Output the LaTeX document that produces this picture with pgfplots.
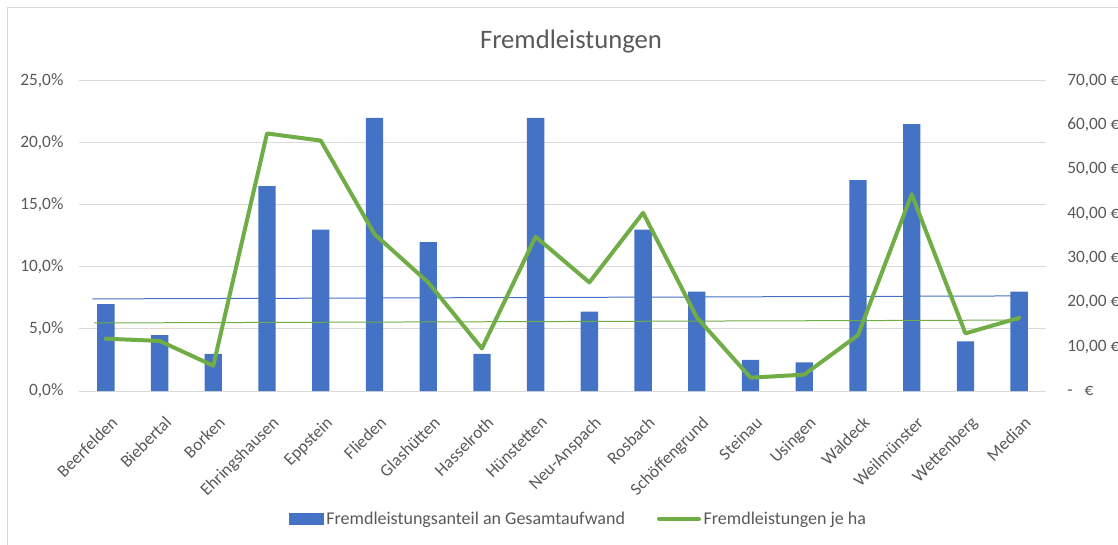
\documentclass[border=0pt]{standalone}
\usepackage{pgfplots}
\pgfplotsset{compat=1.18}
\usepackage{fontspec}
\setmainfont{Carlito}
\definecolor{xblue}{HTML}{4472C4}
\definecolor{xgreen}{HTML}{70AD47}
\definecolor{xtext}{HTML}{595959}
\definecolor{xgrid}{HTML}{D9D9D9}
\begin{document}
\begin{tikzpicture}
\useasboundingbox (0pt,0pt) rectangle (838.5pt,408pt);
\draw[xgrid, line width=0.75pt] (5.25pt,-10pt) -- (5.25pt,402pt) -- (850pt,402pt);
\pgfplotsset{
  common/.style={
    at={(59.25pt,114.75pt)}, anchor=south west,
    width=725.25pt, height=232.7pt, scale only axis,
    xmin=-0.5, xmax=17.5,
    axis line style={draw=none}, major tick length=0pt,
    ticklabel style={text=xtext, font=\fontsize{13}{15}\selectfont},
  }
}
\begin{axis}[common,
  ymin=0, ymax=25,
  ytick={0,5,10,15,20,25},
  yticklabels={{0,0\%},{5,0\%},{10,0\%},{15,0\%},{20,0\%},{25,0\%}},
  ymajorgrids, grid style={xgrid, line width=0.75pt},
  yticklabel style={anchor=east, inner sep=0pt, xshift=-11.5pt},
  xtick={0,...,17},
  xticklabels={Beerfelden,Biebertal,Borken,Ehringshausen,Eppstein,Flieden,Glashütten,Hasselroth,Hünstetten,Neu-Anspach,Rosbach,Schöffengrund,Steinau,Usingen,Waldeck,Weilmünster,Wettenberg,Median},
  xticklabel style={rotate=45, anchor=north east, inner sep=0pt, xshift=-10.5pt, yshift=-15pt},
]
\addplot[ybar, bar width=13pt, fill=xblue, draw=none] coordinates {
(0,7.0) (1,4.5) (2,3.0) (3,16.5) (4,13.0) (5,22.0) (6,12.0) (7,3.0) (8,22.0)
(9,6.4) (10,13.0) (11,8.0) (12,2.5) (13,2.3) (14,17.0) (15,21.5) (16,4.0) (17,8.0)};
\addplot[xblue, line width=0.75pt] coordinates {(-0.25,7.42) (16.9,7.66)};
\end{axis}
\begin{axis}[common,
  ymin=0, ymax=70,
  axis x line=none, axis y line*=right,
  xtick=\empty,
  ytick={0,10,20,30,40,50,60,70},
  yticklabels={{-\hspace{9pt}€},{10,00 €},{20,00 €},{30,00 €},{40,00 €},{50,00 €},{60,00 €},{70,00 €}},
  yticklabel style={anchor=west, inner sep=0pt, xshift=15.75pt},
  legend columns=2,
  legend style={at={(0.517,-0.4125)}, anchor=center, draw=none, fill=none,
    font=\fontsize{13.5}{16}\selectfont, text=xtext,
    /tikz/every even column/.append style={column sep=22pt}},
]
\addlegendimage{legend image code/.code={\fill[xblue] (0pt,-4pt) rectangle (25.5pt,4pt);}}
\addlegendentry{Fremdleistungsanteil an Gesamtaufwand}
\addplot[xgreen, line width=0.75pt, forget plot] coordinates {(-0.22,15.35) (17,16.0)};
\addplot[xgreen, line width=3pt, line join=round, line cap=round,
  legend image code/.code={\draw[xgreen, line width=3pt] (0pt,0pt) -- (30pt,0pt);}] coordinates {
(0,11.8) (1,11.3) (2,5.7) (3,58.1) (4,56.5) (5,35.4) (6,24.5) (7,9.6) (8,34.8)
(9,24.5) (10,40.2) (11,16.6) (12,3.0) (13,3.7) (14,12.6) (15,44.4) (16,13.0) (17,16.5)};
\addlegendentry{Fremdleistungen je ha}
\end{axis}
\node[text=xtext, font=\fontsize{20}{24}\selectfont] at (428.25pt,376.5pt) {Fremdleistungen};
\end{tikzpicture}
\end{document}
